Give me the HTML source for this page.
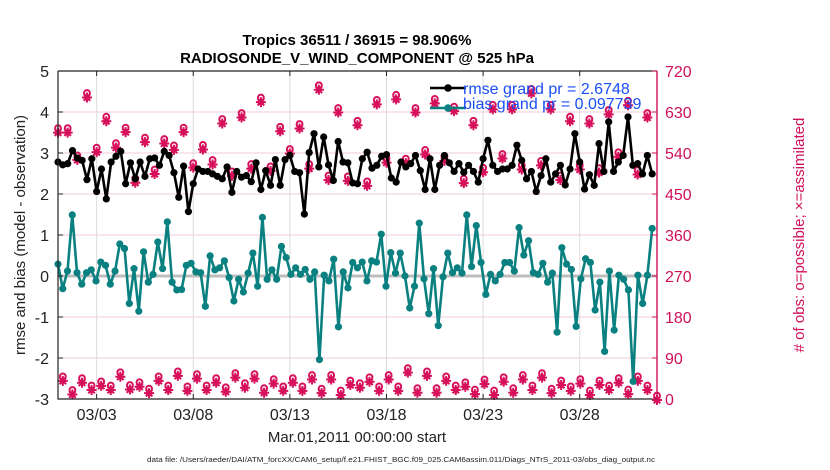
<!DOCTYPE html>
<html><head><meta charset="utf-8"><style>
body{margin:0;background:#fff;}
svg{display:block;font-family:"Liberation Sans",Arial,sans-serif;}
</style></head><body>
<svg id="chart" width="830" height="470" viewBox="0 0 830 470" xmlns="http://www.w3.org/2000/svg">
<rect x="0" y="0" width="830" height="470" fill="#fff"/>
<text x="357" y="45" text-anchor="middle" font-size="15" font-weight="bold" fill="#000">Tropics 36511 / 36915 = 98.906%</text>
<text x="357" y="63" text-anchor="middle" font-size="15" font-weight="bold" fill="#000">RADIOSONDE_V_WIND_COMPONENT @ 525 hPa</text>
<g id="grid"></g>
<g id="marks"></g>
<g id="axes"></g>
<text transform="translate(25,235) rotate(-90)" text-anchor="middle" font-size="15" fill="#222">rmse and bias (model - observation)</text>
<text transform="translate(804,235) rotate(-90)" text-anchor="middle" font-size="15" fill="#d0105a"># of obs: o=possible; ×=assimilated</text>
<text x="357" y="442" text-anchor="middle" font-size="15" fill="#222">Mar.01,2011 00:00:00 start</text>
<text x="147" y="462" font-size="7.5" fill="#222" textLength="508" lengthAdjust="spacingAndGlyphs">data file: /Users/raeder/DAI/ATM_forcXX/CAM6_setup/f.e21.FHIST_BGC.f09_025.CAM6assim.011/Diags_NTrS_2011-03/obs_diag_output.nc</text>
<g id="legend">
<line x1="430" y1="88" x2="466" y2="88" stroke="#000" stroke-width="2.5"/><circle cx="448" cy="88" r="3.8" fill="#000"/>
<text x="463" y="94" font-size="16" fill="#1a4ef5">rmse grand pr = 2.6748</text>
<line x1="430" y1="108" x2="466" y2="108" stroke="#0a8080" stroke-width="2.5"/><circle cx="448" cy="108" r="3.8" fill="#0a8080"/>
<text x="463" y="109" font-size="16" fill="#1a4ef5">bias grand pr = 0.097739</text>
</g>
</svg>
<script>
const rmse=[2.78,2.71,2.74,3.06,2.88,2.82,2.35,2.86,2.06,2.61,1.88,2.78,2.92,3.04,2.25,2.76,2.37,2.78,2.43,2.86,2.88,2.7,3.04,2.94,2.52,1.92,2.68,1.57,2.25,2.61,2.55,
2.55,2.49,2.43,2.37,2.66,2.04,2.55,2.41,2.45,2.3,2.76,2.11,2.57,2.21,2.84,2.21,2.84,2.94,2.55,2.52,1.51,3.01,3.47,2.66,3.39,2.71,2.33,3.28,2.78,2.76,2.27,
2.25,2.86,3.02,2.63,2.7,2.92,2.96,2.39,2.29,2.78,2.66,2.74,2.94,2.57,2.11,2.86,2.11,2.7,2.94,2.76,2.55,2.74,2.53,2.7,2.55,2.29,2.86,3.31,2.7,2.55,2.61,
2.61,2.7,3.19,2.82,2.37,2.55,2.06,2.45,2.86,2.29,2.49,2.7,2.22,2.61,3.47,2.78,2.12,2.47,2.21,3.23,2.55,3.76,2.55,2.78,2.94,3.88,2.7,2.74,2.49,2.94,2.49];
const bias=[0.29,-0.31,0.12,1.49,0.08,-0.2,0.08,0.15,-0.12,0.34,0.26,-0.2,0.12,0.78,0.67,-0.67,0.18,-0.86,0.59,-0.15,0.04,0.83,0.18,1.32,-0.15,-0.34,-0.33,0.26,0.31,0.1,0.08,-0.74,
0.49,0.15,0.2,0.37,-0.04,-0.61,-0.08,-0.39,0.07,0.56,-0.25,1.43,-0.08,0.15,-0.08,0.72,0.45,0.04,0.2,0.04,0.16,-0.08,0.1,-2.04,0.02,-0.12,0.41,-1.24,0.1,-0.29,0.33,
0.2,0.34,-0.12,0.37,0.34,1.02,-0.25,0.57,0.07,0.56,0,-0.78,-0.25,1.29,-0.07,-0.92,0.18,-1.21,-0.02,0.56,0.08,0.2,0.07,1.49,0.23,1.23,0.33,-0.45,0.04,-0.12,0.04,0.33,
0.33,0.12,1.18,0.51,0.86,0.08,0.04,0.31,-0.15,0.07,-1.37,0.69,0.29,0.16,-1.23,-0.07,0.42,0.33,-0.83,-0.15,-1.84,0.12,-1.32,0.02,-0.08,-0.34,-2.57,0.02,-0.67,0.02,1.16];
const obsHigh=[587,587,527,664,544,612,554,588,477,566,496,563,549,588,510,550,
517,607,492,620,508,654,503,590,541,596,508,681,483,631,481,603,
470,649,521,660,520,631,539,651,525,634,476,603,500,638,530,
638,506,673,515,638,483,612,506,607,499,627,534,647,495,620];
const obsLow=[42,12,38,22,31,22,51,23,29,15,42,22,53,20,47,22,
38,18,49,27,47,16,36,20,38,20,45,15,45,11,33,
27,40,20,45,20,60,16,53,16,42,22,29,13,35,11,40,
16,45,22,49,15,33,20,36,11,33,22,38,13,42,22,0];
const leftTicks=[5,4,3,2,1,0,-1,-2,-3];
const rightTicks=[0,90,180,270,360,450,540,630,720];
const xTickDays=[2,7,12,17,22,27];
const xTickLabels=["03/03","03/08","03/13","03/18","03/23","03/28"];

const NS="http://www.w3.org/2000/svg";
const L=58,R=657,T=71,B=399;
const xS=d=>L+(d/31)*(R-L);
const yL=v=>B-(v+3)/8*(B-T);
const yR=v=>B-v/720*(B-T);
function mk(tag,attrs,parent){const e=document.createElementNS(NS,tag);for(const k in attrs)e.setAttribute(k,attrs[k]);parent.appendChild(e);return e;}
const grid=document.getElementById('grid'),marks=document.getElementById('marks'),axes=document.getElementById('axes');
leftTicks.forEach(v=>{const l=mk('line',{x1:L,x2:R,y1:yL(v),y2:yL(v),stroke:'#f2c8d8','stroke-width':1},grid);

});
xTickDays.forEach(d=>{const l=mk('line',{x1:xS(d),x2:xS(d),y1:T,y2:B,stroke:'#dcdcdc','stroke-width':1},grid);

});
const zl=mk('line',{x1:L,x2:R,y1:yL(0),y2:yL(0),stroke:'#bdbdbd','stroke-width':3},grid);



function obsMark(x,y,name){
  const g=mk('g',{},marks);
  
  
  mk('circle',{cx:x,cy:y-3.5,r:2.9,fill:'none',stroke:'#d6105a','stroke-width':2},g);
  mk('path',{d:`M${x},${y-3}L${x+4},${y+1}L${x},${y+5}L${x-4},${y+1}Z`,fill:'#d6105a'},g);
  mk('path',{d:`M${x-5},${y+1}h10M${x},${y-4}v10M${x-3.3},${y-2.3}l6.6,6.6M${x+3.3},${y-2.3}l-6.6,6.6`,stroke:'#d6105a','stroke-width':2},g);
}
obsHigh.forEach((v,j)=>obsMark(xS(j*30.5/(obsHigh.length-1)),yR(v),'obs-count-high'));
obsLow.forEach((v,j)=>obsMark(xS(0.25+j*30.75/(obsLow.length-1)),yR(v),'obs-count-low'));

function series(arr,color,name){
  const n=arr.length;const pts=arr.map((v,i)=>[xS(i*30.75/(n-1)),yL(v)]);
  const p=mk('polyline',{points:pts.map(p=>p.join(',')).join(' '),fill:'none',stroke:color,'stroke-width':2.6,'stroke-linejoin':'round'},marks);
  
  
  pts.forEach(q=>{const c=mk('circle',{cx:q[0],cy:q[1],r:3.6,fill:color},marks);
  
  });
}
series(bias,'#0a8080','bias');
series(rmse,'#000','rmse');

const box=mk('path',{d:`M${L},${T}H${R}M${L},${T}V${B}H${R}`,fill:'none',stroke:'#222','stroke-width':1.2},axes);


const ra=mk('line',{x1:R,x2:R,y1:T,y2:B,stroke:'#d0105a','stroke-width':1.4},axes);


leftTicks.forEach(v=>{mk('line',{x1:L,x2:L+5,y1:yL(v),y2:yL(v),stroke:'#222'},axes);
const t=mk('text',{x:L-9,y:yL(v)+6,'text-anchor':'end','font-size':16,fill:'#222'},axes);t.textContent=v;

});
rightTicks.forEach(v=>{mk('line',{x1:R-5,x2:R,y1:yR(v),y2:yR(v),stroke:'#d0105a'},axes);
const t=mk('text',{x:R+8,y:yR(v)+6,'font-size':16,fill:'#d0105a'},axes);t.textContent=v;

});
xTickDays.forEach((d,i)=>{mk('line',{x1:xS(d),x2:xS(d),y1:B-5,y2:B,stroke:'#222'},axes);mk('line',{x1:xS(d),x2:xS(d),y1:T,y2:T+5,stroke:'#222'},axes);
const t=mk('text',{x:xS(d),y:B+21,'text-anchor':'middle','font-size':16,fill:'#222'},axes);t.textContent=xTickLabels[i];

});
</script>
</body></html>
